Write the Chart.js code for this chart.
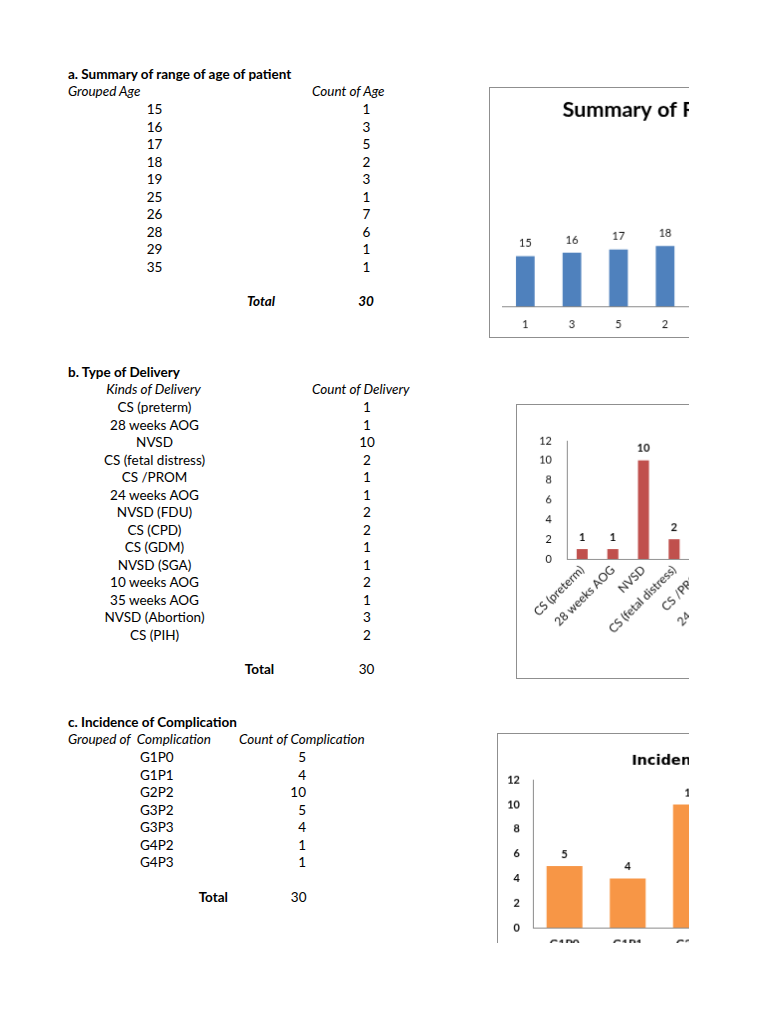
<!DOCTYPE html>
<html>
<head>
<meta charset="utf-8">
<script src="https://cdn.jsdelivr.net/npm/chart.js@4.4.1/dist/chart.umd.min.js"></script>
<style>
  body { margin: 0; background: #fff; }
  #page { position: relative; width: 689px; height: 943px; overflow: hidden;
          font-family: Lato, "Liberation Sans", sans-serif; font-size: 13.5px; color: #000; }
  .t { position: absolute; white-space: pre; line-height: 1; }
  .chartBox { position: absolute; border: 1px solid #8f8f8f; background: #fff; }
</style>
</head>
<body>
<div id="page">
  <canvas id="ageChart" class="chartBox" width="511" height="251" style="left:489px;top:87px"></canvas>
  <canvas id="deliveryChart" class="chartBox" width="491" height="275" style="left:516px;top:404px"></canvas>
  <canvas id="complicationChart" class="chartBox" width="494" height="280" style="left:497px;top:733px"></canvas>
</div>
<script>
// a. age of patients
const ageGroups = [15, 16, 17, 18, 19, 25, 26, 28, 29, 35];
const ageCounts = [1, 3, 5, 2, 3, 1, 7, 6, 1, 1];

// b. type of delivery
const deliveryKinds = ['CS (preterm)', '28 weeks AOG', 'NVSD', 'CS (fetal distress)', 'CS /PROM',
  '24 weeks AOG', 'NVSD (FDU)', 'CS (CPD)', 'CS (GDM)', 'NVSD (SGA)', '10 weeks AOG',
  '35 weeks AOG', 'NVSD (Abortion)', 'CS (PIH)'];
const deliveryCounts = [1, 1, 10, 2, 1, 1, 2, 2, 1, 1, 2, 1, 3, 2];

// c. complications
const complicationGroups = ['G1P0', 'G1P1', 'G2P2', 'G3P2', 'G3P3', 'G4P2', 'G4P3'];
const complicationCounts = [5, 4, 10, 5, 4, 1, 1];

// count axis of charts b and c
const countMin = 0;
const countMax = 12;
const countStep = 2;

const page = document.getElementById('page');
const sum = arr => arr.reduce((a, b) => a + b, 0);

function addText(str, x, y, align, style) {
    const el = document.createElement('div');
    el.className = 't';
    el.textContent = str;
    el.style.left = x + 'px';
    el.style.top = y + 'px';
    const shift = align === 'center' ? '-50%' : align === 'right' ? '-100%' : '0';
    el.style.transform = `translate(${shift}, -50%)`;
    if (style) Object.assign(el.style, style);
    page.appendChild(el);
}

const bold = { fontWeight: 'bold' };
const italic = { fontStyle: 'italic' };
const boldItalic = { fontWeight: 'bold', fontStyle: 'italic' };
const rowStep = 17.5;

// --- table a
addText('a. Summary of range of age of patient', 68, 75, 'left', bold);
addText('Grouped Age', 68, 92, 'left', italic);
addText('Count of Age', 312, 92, 'left', italic);
ageGroups.forEach((g, i) => {
    addText(String(g), 154.5, 110 + i * rowStep, 'center');
    addText(String(ageCounts[i]), 366.5, 110 + i * rowStep, 'center');
});
addText('Total', 261, 302, 'center', boldItalic);
addText(String(sum(ageCounts)), 366, 302, 'center', boldItalic);

// --- table b
addText('b. Type of Delivery', 68, 373, 'left', bold);
addText('Kinds of Delivery', 153.5, 390, 'center', italic);
addText('Count of Delivery', 312, 390, 'left', italic);
deliveryKinds.forEach((k, i) => {
    addText(k, 154.5, 408.3 + i * rowStep, 'center');
    addText(String(deliveryCounts[i]), 367, 408.3 + i * rowStep, 'center');
});
addText('Total', 259.5, 670, 'center', bold);
addText(String(sum(deliveryCounts)), 366.5, 670, 'center');

// --- table c
addText('c. Incidence of Complication', 68, 722.5, 'left', bold);
addText('Grouped of  Complication', 68, 740, 'left', italic);
addText('Count of Complication', 239, 740, 'left', italic);
complicationGroups.forEach((g, i) => {
    addText(g, 140, 758.3 + i * rowStep, 'left');
    addText(String(complicationCounts[i]), 306, 758.3 + i * rowStep, 'right');
});
addText('Total', 213.3, 898, 'center', bold);
addText(String(sum(complicationCounts)), 306.5, 898, 'right');

// value above each bar
const valueLabels = {
    id: 'valueLabels',
    afterDatasetsDraw(chart, args, opts) {
        const ctx = chart.ctx;
        const meta = chart.getDatasetMeta(0);
        const values = chart.data.datasets[0].data;
        ctx.save();
        ctx.font = opts.font;
        ctx.fillStyle = '#111';
        ctx.textAlign = 'center';
        ctx.textBaseline = 'middle';
        meta.data.forEach((bar, i) => {
            ctx.fillText(String(values[i]), bar.x, bar.y - opts.offset);
        });
        ctx.restore();
    }
};

const axisGray = '#8a8a8a';
const noTooltip = { enabled: false };

// chart a: ages drawn as bar heights, counts as category labels
new Chart(document.getElementById('ageChart'), {
    type: 'bar',
    data: {
        labels: ageCounts,
        datasets: [{ data: ageGroups, backgroundColor: '#4F81BD', categoryPercentage: 1, barPercentage: 0.4 }]
    },
    options: {
        responsive: false,
        animation: false,
        layout: { padding: { left: 12, right: 31, top: 0, bottom: 8 } },
        plugins: {
            legend: { display: false },
            tooltip: noTooltip,
            title: {
                display: true,
                text: 'Summary of Range of Age of Patient',
                color: '#000',
                font: { family: 'Lato', size: 21.5, weight: 'bold' },
                padding: { top: 9, bottom: 10 }
            },
            valueLabels: { font: '11px Lato', offset: 13 }
        },
        scales: {
            x: {
                grid: { display: false, drawTicks: false },
                border: { display: true, color: axisGray },
                ticks: { padding: 12, color: '#111', font: { family: 'Lato', size: 11 } },
                afterFit: s => { s.height = 23; }
            },
            y: { display: false, min: 0, max: 52 }
        }
    },
    plugins: [valueLabels]
});

// chart b
new Chart(document.getElementById('deliveryChart'), {
    type: 'bar',
    data: {
        labels: deliveryKinds,
        datasets: [{ data: deliveryCounts, backgroundColor: '#C0504D', categoryPercentage: 1, barPercentage: 0.36 }]
    },
    options: {
        responsive: false,
        animation: false,
        layout: { padding: { left: 0, right: 10, top: 36, bottom: 0 } },
        plugins: {
            legend: { display: false },
            tooltip: noTooltip,
            valueLabels: { font: 'bold 11px Lato', offset: 12 }
        },
        scales: {
            x: {
                grid: { display: false, drawTicks: false },
                border: { color: axisGray },
                ticks: { autoSkip: false, minRotation: 45, maxRotation: 45, padding: 4,
                         color: '#111', font: { family: 'Lato', size: 12 } },
                afterFit: s => { s.height = 120; }
            },
            y: {
                min: countMin, max: countMax,
                grid: { display: false, drawTicks: false },
                border: { color: axisGray },
                ticks: { stepSize: countStep, padding: 15, color: '#111', font: { family: 'Lato', size: 11 } },
                afterFit: s => { s.width = 50; }
            }
        }
    },
    plugins: [valueLabels]
});

// chart c
new Chart(document.getElementById('complicationChart'), {
    type: 'bar',
    data: {
        labels: complicationGroups,
        datasets: [{ data: complicationCounts, backgroundColor: '#F79646', categoryPercentage: 1, barPercentage: 0.567 }]
    },
    options: {
        responsive: false,
        animation: false,
        layout: { padding: { left: 0, right: 14.5, top: 0, bottom: 55 } },
        plugins: {
            legend: { display: false },
            tooltip: noTooltip,
            title: {
                display: true,
                text: 'Incidence of Complication',
                color: '#000',
                font: { family: 'DejaVu Sans', size: 14.5, weight: 'bold' },
                padding: { top: 18.3, bottom: 10.6 }
            },
            valueLabels: { font: 'bold 11px Lato', offset: 12 }
        },
        scales: {
            x: {
                grid: { display: false, drawTicks: false },
                border: { color: axisGray },
                ticks: { padding: 9, color: '#111', font: { family: 'Lato', size: 12, weight: 'bold' } },
                afterFit: s => { s.height = 30; }
            },
            y: {
                min: countMin, max: countMax,
                grid: { display: false, drawTicks: false },
                border: { color: axisGray },
                ticks: { stepSize: countStep, padding: 13, color: '#111', font: { family: 'Lato', size: 11, weight: 'bold' } },
                afterFit: s => { s.width = 35; }
            }
        }
    },
    plugins: [valueLabels]
});
</script>
</body>
</html>
